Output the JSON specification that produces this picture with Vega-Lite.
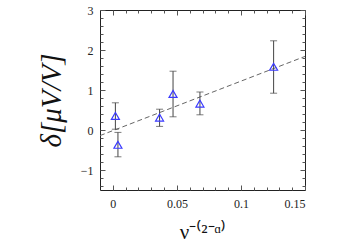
{
  "$schema": "https://vega.github.io/schema/vega-lite/v6.json",
  "width": 205,
  "height": 180,
  "autosize": "none",
  "padding": {"left": 100, "top": 10, "right": 41, "bottom": 55},
  "background": "white",
  "config": {
    "view": {"stroke": "#222", "strokeWidth": 1},
    "axis": {"grid": false, "domain": false, "tickColor": "#555", "tickWidth": 1, "labelOverlap": false,
             "labelFont": "Liberation Serif", "labelFontSize": 12, "labelColor": "#222",
             "titleFont": "Liberation Serif", "titleFontWeight": "normal", "titleColor": "#111"}
  },
  "datasets": {
    "fit": [{"x": -0.01, "y": -0.14}, {"x": 0.15, "y": 1.84}],
    "pts": [
      {"x": 0.002, "y": 0.35, "lo": 0.02, "hi": 0.68},
      {"x": 0.004, "y": -0.37, "lo": -0.67, "hi": -0.06},
      {"x": 0.0365, "y": 0.31, "lo": 0.09, "hi": 0.52},
      {"x": 0.047, "y": 0.9, "lo": 0.33, "hi": 1.47},
      {"x": 0.068, "y": 0.66, "lo": 0.38, "hi": 0.95},
      {"x": 0.1255, "y": 1.58, "lo": 0.92, "hi": 2.23}
    ]
  },
  "resolve": {"axis": {"x": "independent", "y": "independent"}},
  "layer": [
    {
      "data": {"name": "fit"},
      "mark": {"type": "line", "color": "#666", "strokeWidth": 1, "strokeDash": [5, 3]},
      "encoding": {
        "x": {"field": "x", "type": "quantitative",
              "scale": {"domain": [-0.01, 0.15], "nice": false, "zero": false},
              "axis": {"orient": "bottom", "values": [0, 0.05, 0.1, 0.15], "format": ".2~f", "tickSize": -5,
                       "labelPadding": 13, "title": "ν⁻⁽²⁻ᵅ⁾", "titleFontSize": 21, "titlePadding": 12}},
        "y": {"field": "y", "type": "quantitative",
              "scale": {"domain": [-1.5, 3], "nice": false, "zero": false},
              "axis": {"orient": "left", "values": [-1, 0, 1, 2, 3], "format": "~g", "tickSize": -5,
                       "labelPadding": 12, "title": "δ[μV/V]", "titleFontSize": 29, "titleFontStyle": "italic", "titlePadding": 14}}
      }
    },
    {
      "data": {"name": "pts"},
      "mark": {"type": "rule", "color": "#444", "strokeWidth": 1},
      "encoding": {
        "x": {"field": "x", "type": "quantitative",
              "axis": {"orient": "bottom", "values": [0.01, 0.02, 0.03, 0.04, 0.06, 0.07, 0.08, 0.09, 0.11, 0.12, 0.13, 0.14],
                       "tickSize": -3, "labels": false, "title": null}},
        "y": {"field": "lo", "type": "quantitative",
              "axis": {"orient": "left", "values": [-1.4, -1.2, -0.8, -0.6, -0.4, -0.2, 0.2, 0.4, 0.6, 0.8, 1.2, 1.4, 1.6, 1.8, 2.2, 2.4, 2.6, 2.8],
                       "tickSize": -3, "labels": false, "title": null}},
        "y2": {"field": "hi"}
      }
    },
    {
      "data": {"name": "pts"},
      "transform": [{"fold": ["lo", "hi"], "as": ["k", "v"]}],
      "mark": {"type": "tick", "orient": "horizontal", "color": "#444", "size": 7, "thickness": 1},
      "encoding": {
        "x": {"field": "x", "type": "quantitative",
              "axis": {"orient": "top", "values": [0, 0.05, 0.1, 0.15], "tickSize": -5, "labels": false, "title": null}},
        "y": {"field": "v", "type": "quantitative",
              "axis": {"orient": "right", "values": [-1, 0, 1, 2, 3], "tickSize": -5, "labels": false, "title": null}}
      }
    },
    {
      "data": {"name": "pts"},
      "mark": {"type": "point", "shape": "triangle-up", "filled": false, "color": "#3a3aff", "size": 64, "strokeWidth": 1.2, "opacity": 1},
      "encoding": {
        "x": {"field": "x", "type": "quantitative",
              "axis": {"orient": "top", "values": [0.01, 0.02, 0.03, 0.04, 0.06, 0.07, 0.08, 0.09, 0.11, 0.12, 0.13, 0.14],
                       "tickSize": -3, "labels": false, "title": null}},
        "y": {"field": "y", "type": "quantitative",
              "axis": {"orient": "right", "values": [-1.4, -1.2, -0.8, -0.6, -0.4, -0.2, 0.2, 0.4, 0.6, 0.8, 1.2, 1.4, 1.6, 1.8, 2.2, 2.4, 2.6, 2.8],
                       "tickSize": -3, "labels": false, "title": null}}
      }
    }
  ]
}
